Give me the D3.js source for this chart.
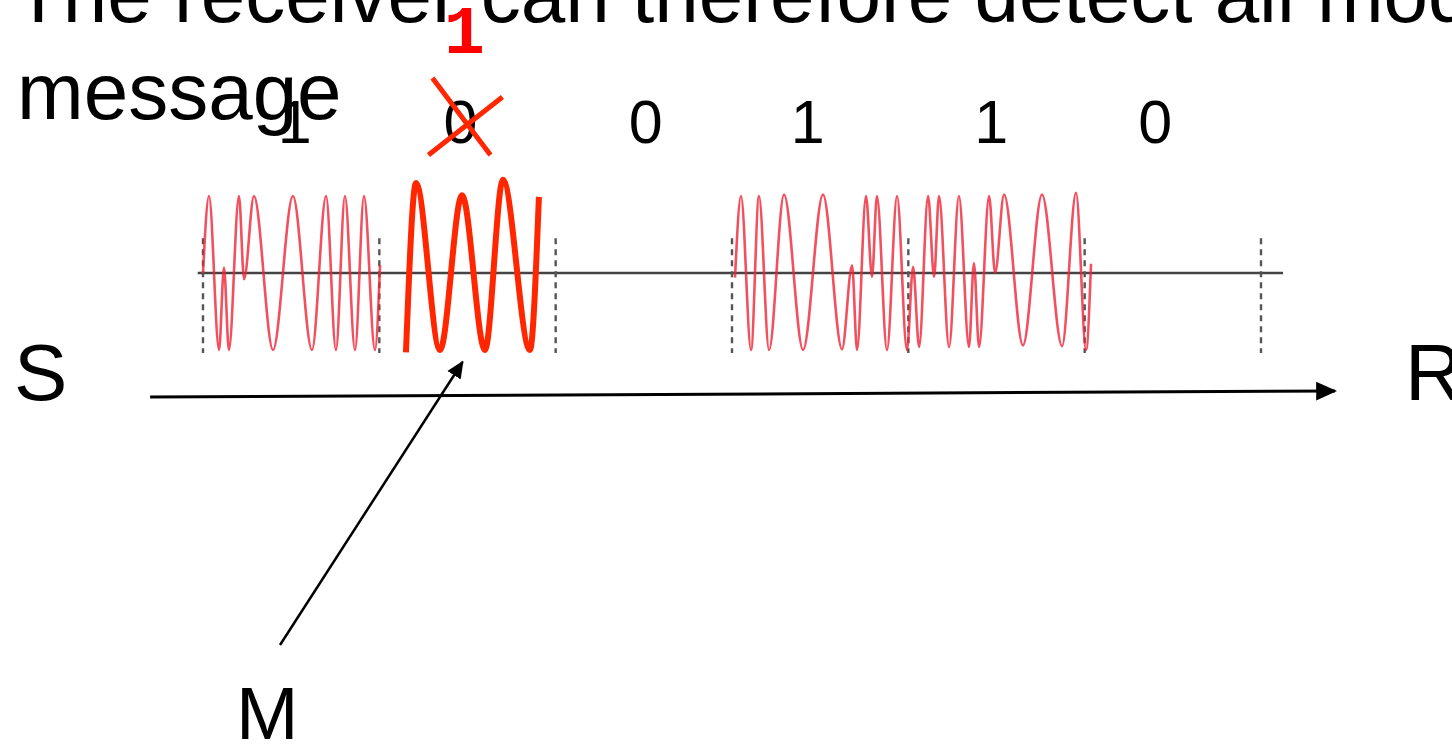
<!DOCTYPE html>
<meta charset="utf-8">
<head>
<style>
body { margin: 0; background: #fff; }
svg { display: block; }
text { font-family: "Liberation Sans", Arial, Helvetica, sans-serif; fill: #000; }
.thin { fill: none; stroke: #ef2436; stroke-width: 2.6px; stroke-opacity: 0.8; }
.thick { fill: none; stroke: #ff2600; stroke-width: 6px; }
.baseline { stroke: #444; stroke-width: 2.5px; }
.slot { stroke: #555; stroke-width: 2.4px; stroke-dasharray: 6,5; }
.arrow { stroke: #000; stroke-width: 3px; fill: none; }
</style>
</head>
<body>
<script src="https://d3js.org/d3.v7.min.js"></script>
<script>

// transmitted bits and where their labels sit (in bit slots)
var bits = ["1", "0", "0", "1", "1", "0"];
var bitLabelAt = [0.52, 1.46, 2.51, 3.43, 4.47, 5.40];
var slotEdges = [0, 1, 2, 3, 4, 5, 6];

// signal: [time in bit slots, amplitude]
var waveA = [
  [0.000, 0.00], [0.034, 1.00], [0.091, -1.00], [0.119, 0.07], [0.147, -1.00],
  [0.204, 1.00], [0.233, -0.08], [0.289, 1.00], [0.397, -1.00], [0.510, 1.00],
  [0.618, -1.00], [0.698, 1.00], [0.754, -1.00], [0.805, 1.00], [0.862, -1.00],
  [0.913, 1.00], [0.975, -1.00], [1.004, 0.10]
];

// the part the attacker M changed
var waveM = [
  [1.151, -1.03], [1.208, 1.17], [1.344, -1.00], [1.469, 1.01],
  [1.599, -1.00], [1.701, 1.21], [1.854, -1.00], [1.905, 0.99]
];

var waveB = [
  [3.017, -0.06], [3.051, 1.00], [3.108, -1.00], [3.153, 1.00], [3.210, -1.00],
  [3.295, 1.02], [3.403, -1.00], [3.516, 1.02], [3.624, -0.99], [3.681, 0.10],
  [3.709, -1.00], [3.760, 1.00], [3.794, -0.05], [3.822, 1.00], [3.879, -1.00],
  [3.936, 1.00], [3.992, -1.00], [4.027, 0.08], [4.061, -0.96], [4.112, 1.00],
  [4.146, -0.05], [4.174, 1.00], [4.231, -0.96], [4.287, 1.00], [4.344, -0.96],
  [4.372, 0.13], [4.401, -0.96], [4.458, 1.00], [4.492, 0.00], [4.543, 1.02],
  [4.650, -0.94], [4.758, 1.02], [4.872, -0.95], [4.951, 1.04], [5.008, -1.00],
  [5.036, 0.12]
];

var width = 1452, height = 745;

var svg = d3.select("body").append("svg")
    .attr("width", width)
    .attr("height", height);

// time runs over 6 bit slots
var x = d3.scaleLinear().domain([0, 6]).range([203, 1261]);
var y = d3.scaleLinear().domain([-1, 1]).range([350, 196]);

var line = d3.line()
    .x(function(d) { return x(d[0]); })
    .y(function(d) { return y(d[1]); })
    .curve(d3.curveMonotoneX);

// arrow heads
var defs = svg.append("defs");
defs.append("marker")
    .attr("id", "head")
    .attr("viewBox", "0 0 10 10")
    .attr("refX", 9).attr("refY", 5)
    .attr("markerWidth", 7).attr("markerHeight", 7)
    .attr("markerUnits", "strokeWidth")
    .attr("orient", "auto")
  .append("path")
    .attr("d", "M0,0.5 L10,5 L0,9.5 z")
    .style("fill", "#000");

// heading (runs off the slide)
svg.append("text")
    .attr("x", 14).attr("y", 22)
    .style("font-size", "80px")
    .text("The receiver can therefore detect all modifications to the");
svg.append("text")
    .attr("x", 17).attr("y", 119)
    .style("font-size", "80px")
    .text("message");

// time axis and slot boundaries
svg.append("line")
    .attr("class", "baseline")
    .attr("x1", x(-0.03)).attr("x2", x(6.125))
    .attr("y1", y(0)).attr("y2", y(0));

svg.selectAll(".slot")
    .data(slotEdges)
  .enter().append("line")
    .attr("class", "slot")
    .attr("x1", function(d) { return x(d); })
    .attr("x2", function(d) { return x(d); })
    .attr("y1", y(0.45))
    .attr("y2", y(-1.04));

// the signals
svg.append("path").datum(waveA).attr("class", "thin").attr("d", line);
svg.append("path").datum(waveB).attr("class", "thin").attr("d", line);
svg.append("path").datum(waveM).attr("class", "thick").attr("d", line);

// bit labels
svg.selectAll(".bit")
    .data(bits)
  .enter().append("text")
    .attr("class", "bit")
    .attr("x", function(d, i) { return x(bitLabelAt[i]); })
    .attr("y", 143)
    .attr("text-anchor", "middle")
    .style("font-size", "61px")
    .text(function(d) { return d; });

// crossed out bit and what it became
var cx = x(bitLabelAt[1]);
svg.append("line")
    .attr("x1", cx - 28).attr("y1", 78).attr("x2", cx + 30).attr("y2", 155)
    .style("stroke", "#ff2600").style("stroke-width", 5);
svg.append("line")
    .attr("x1", cx - 32).attr("y1", 155).attr("x2", cx + 42).attr("y2", 97)
    .style("stroke", "#ff2600").style("stroke-width", 5);
svg.append("text")
    .attr("x", cx + 4).attr("y", 53)
    .attr("text-anchor", "middle")
    .style("font-family", "'Liberation Mono', 'DejaVu Sans Mono', monospace")
    .style("font-weight", "bold")
    .style("font-size", "68px")
    .style("fill", "#ff0000")
    .text("1");

// sender -> receiver
svg.append("line")
    .attr("class", "arrow")
    .attr("x1", x(-0.30)).attr("y1", 397)
    .attr("x2", x(6.42)).attr("y2", 391)
    .attr("marker-end", "url(#head)");
svg.append("text").attr("x", 14).attr("y", 400).style("font-size", "80px").text("S");
svg.append("text").attr("x", 1405).attr("y", 400).style("font-size", "80px").text("R");

// the man in the middle
svg.append("line")
    .attr("class", "arrow")
    .style("stroke-width", 2.5)
    .attr("x1", 280).attr("y1", 645)
    .attr("x2", x(1.472)).attr("y2", 362)
    .attr("marker-end", "url(#head)");
svg.append("text").attr("x", 236).attr("y", 739).style("font-size", "75px").text("M");

</script>
</body>
